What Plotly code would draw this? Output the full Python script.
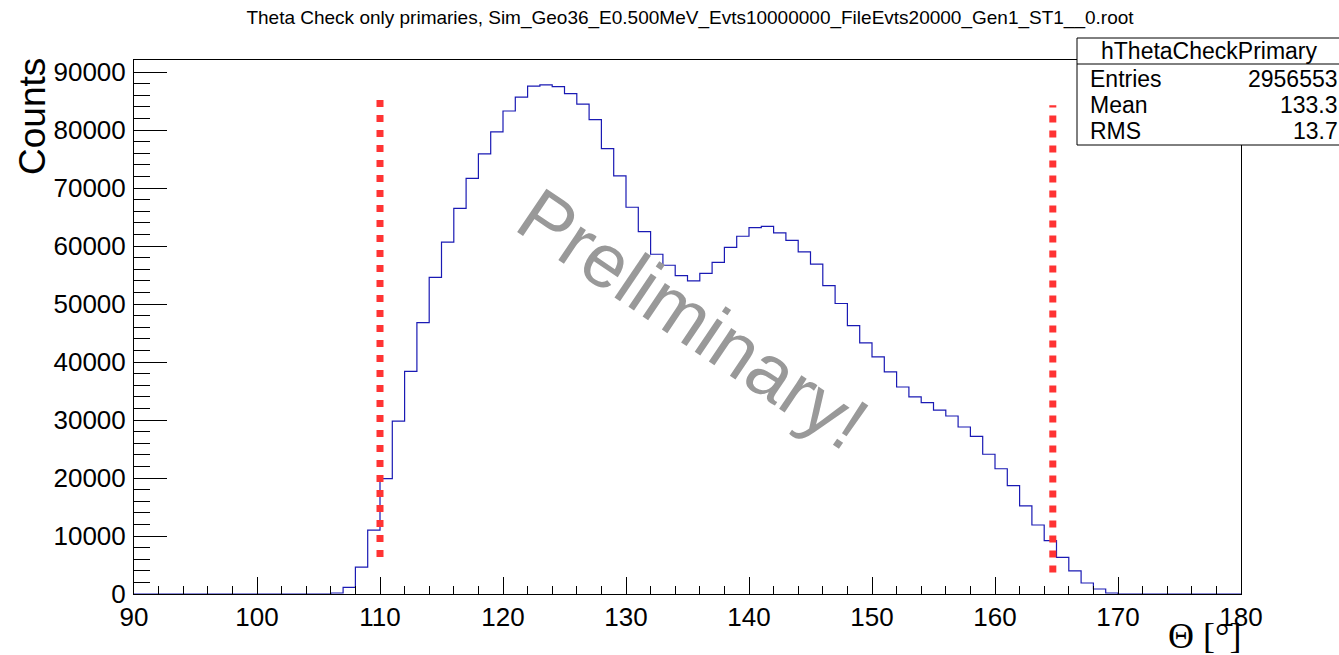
import plotly.graph_objects as go

# ---------------- data ----------------
bin_low_edges = list(range(90, 180))  # 1 degree bins, 90..179
counts = (
    [0] * 16 +  # 90..105
    [170, 1140, 4650, 11000, 19900, 29800, 38400, 46800, 54600, 60700,   # 106..115
     66500, 71700, 75900, 79700, 83300, 85700, 87600, 87800, 87500, 86300,  # 116..125
     84500, 81800, 76800, 72100, 66700, 62500, 58600, 56700, 54900, 54000,  # 126..135
     55300, 57200, 59800, 61700, 63200, 63400, 62300, 61000, 59000, 56900,  # 136..145
     53200, 50100, 46300, 43300, 40900, 38300, 35700, 34000, 33000, 31700,  # 146..155
     30700, 28800, 27200, 24100, 21600, 18700, 15200, 11900, 9200, 6300,    # 156..165
     4000, 1900, 860, 170] +                                                 # 166..169
    [0] * 10  # 170..179
)
cut_x = [110.0, 164.7]
cut_y_top = [85200, 84300]
cut_y_bottom = [5600, 3700]

title_text = "Theta Check only primaries, Sim_Geo36_E0.500MeV_Evts10000000_FileEvts20000_Gen1_ST1__0.root"
stats_name = "hThetaCheckPrimary"
stats_labels = ["Entries", "Mean", "RMS"]
stats_values = ["2956553", "133.3", "13.7"]
x_title = "Θ [°]"
y_title = "Counts"
watermark = "Preliminary!"

# ---------------- figure ----------------
W, H = 1339, 655
L, R, T, B = 134, 98, 60, 61
pw, ph = W - L - R, H - T - B

def px2paper_x(px):
    return (px - L) / pw

def px2paper_y(py):
    return (H - B - py) / ph

FONT = "Liberation Sans, Arial, Helvetica, sans-serif"

edges = bin_low_edges + [bin_low_edges[-1] + 1]
yvals = counts + [counts[-1]]

fig = go.Figure()
fig.add_trace(go.Scatter(
    x=edges, y=yvals, mode="lines", line_shape="hv",
    line=dict(color="#1a1ab4", width=1.2), hoverinfo="skip", showlegend=False,
))

shapes = []
# cut lines (left drawn from top, right from bottom)
shapes.append(dict(type="line", xref="x", yref="y", x0=cut_x[0], x1=cut_x[0],
                   y0=cut_y_top[0], y1=cut_y_bottom[0],
                   line=dict(color="#ff3333", width=7, dash="7px,8px")))
shapes.append(dict(type="line", xref="x", yref="y", x0=cut_x[1], x1=cut_x[1],
                   y0=cut_y_bottom[1], y1=cut_y_top[1],
                   line=dict(color="#ff3333", width=7, dash="7px,8px")))

# stats box
bx0, bx1, by0, by1, bsep = 1077, 1345, 38, 145, 64
shapes.append(dict(type="rect", xref="paper", yref="paper",
                   x0=px2paper_x(bx0), x1=px2paper_x(bx1),
                   y0=px2paper_y(by1), y1=px2paper_y(by0),
                   line=dict(color="black", width=1), fillcolor="white", layer="above"))
shapes.append(dict(type="line", xref="paper", yref="paper",
                   x0=px2paper_x(bx0), x1=px2paper_x(bx1),
                   y0=px2paper_y(bsep), y1=px2paper_y(bsep),
                   line=dict(color="black", width=1), layer="above"))

annotations = []
annotations.append(dict(text=stats_name, xref="paper", yref="paper",
                        x=px2paper_x(1209), y=px2paper_y(51), xanchor="center", yanchor="middle",
                        showarrow=False, font=dict(family=FONT, size=23, color="black")))
row_y = [79, 105, 131]
for lab, val, ry in zip(stats_labels, stats_values, row_y):
    annotations.append(dict(text=lab, xref="paper", yref="paper",
                            x=px2paper_x(1088), y=px2paper_y(ry), xanchor="left", yanchor="middle",
                            showarrow=False, font=dict(family=FONT, size=23, color="black")))
    annotations.append(dict(text=val, xref="paper", yref="paper",
                            x=px2paper_x(1340), y=px2paper_y(ry), xanchor="right", yanchor="middle",
                            showarrow=False, font=dict(family=FONT, size=23, color="black")))

# watermark
annotations.append(dict(text=watermark, xref="paper", yref="paper",
                        x=px2paper_x(693), y=px2paper_y(318), xanchor="center", yanchor="middle",
                        textangle=34, showarrow=False,
                        font=dict(family=FONT, size=76, color="#999999")))
# axis titles
annotations.append(dict(text=y_title, xref="paper", yref="paper",
                        x=px2paper_x(32), y=px2paper_y(117), xanchor="center", yanchor="middle",
                        textangle=-90, showarrow=False,
                        font=dict(family=FONT, size=37, color="black")))
annotations.append(dict(text=x_title, xref="paper", yref="paper",
                        x=px2paper_x(1243), y=px2paper_y(636), xanchor="right", yanchor="middle",
                        showarrow=False,
                        font=dict(family="Liberation Serif, DejaVu Serif, serif", size=36, color="black")))

fig.update_layout(
    width=W, height=H,
    margin=dict(l=L, r=R, t=T, b=B, pad=0),
    paper_bgcolor="white", plot_bgcolor="white",
    title=dict(text=title_text, x=690 / W, xanchor="center", y=1 - 17 / H, yanchor="middle",
               font=dict(family=FONT, size=19, color="black")),
    shapes=shapes, annotations=annotations,
    showlegend=False,
)
fig.update_xaxes(
    range=[90, 180], showgrid=False, zeroline=False,
    showline=True, linecolor="black", linewidth=1, mirror=True,
    tickmode="linear", tick0=90, dtick=10, ticks="inside", ticklen=17, tickcolor="black", tickwidth=1,
    minor=dict(dtick=2, ticks="inside", ticklen=8, tickcolor="black", tickwidth=1, showgrid=False),
    tickfont=dict(family=FONT, size=26, color="black"),
)
fig.update_yaxes(
    range=[0, 92100], showgrid=False, zeroline=False,
    showline=True, linecolor="black", linewidth=1, mirror=True,
    tickmode="linear", tick0=0, dtick=10000, ticks="inside", ticklen=33, tickcolor="black", tickwidth=1,
    minor=dict(dtick=2000, ticks="inside", ticklen=16, tickcolor="black", tickwidth=1, showgrid=False),
    tickformat="d", ticklabelstandoff=2,
    tickfont=dict(family=FONT, size=26, color="black"),
)

fig.write_html("out.html",
               config={"displayModeBar": False},
               post_script="document.body.style.margin='0';document.body.style.overflow='hidden';")
